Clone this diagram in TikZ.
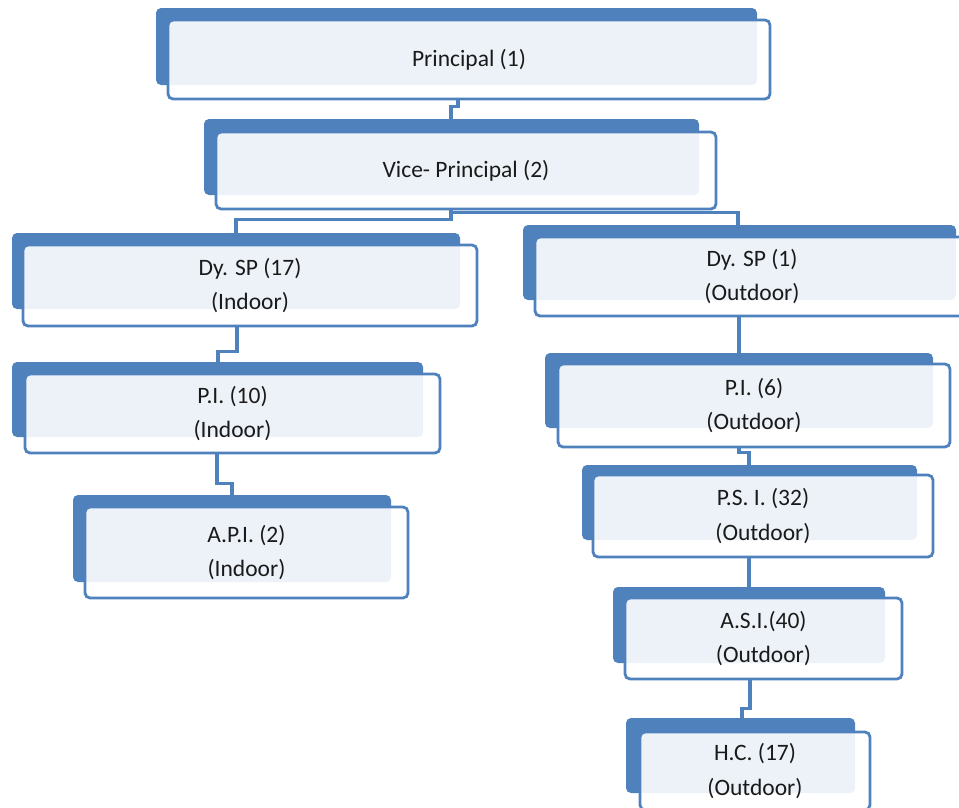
\documentclass[tikz,border=0pt]{standalone}
\usepackage{fontspec}
\setmainfont{Carlito}
\usetikzlibrary{calc}
\definecolor{myblue}{HTML}{4F81BD}
\definecolor{txt}{HTML}{1A1A1A}
\pgfdeclarelayer{bg}
\pgfdeclarelayer{mid}
\pgfsetlayers{bg,mid,main}
\tikzset{
  orgbox/.style={draw=myblue, line width=2.8pt, rounded corners=5pt, fill=white,
    fill opacity=0.9, text opacity=1, text=txt, inner sep=0pt, align=center,
    font=\fontsize{23.5}{34.5}\selectfont},
  backbox/.style={fill=myblue, rounded corners=5pt},
  conn/.style={draw=myblue, line width=3.2pt}
}
\begin{document}
\begin{tikzpicture}[x=1pt,y=-1pt]
\useasboundingbox (0,0) rectangle (959,807);
\clip (0,0) rectangle (959,807);
% outline boxes with text
\node[orgbox, minimum width=602pt, minimum height=79pt] (pr) at (469,59.5) {Principal (1)};
\node[orgbox, minimum width=500pt, minimum height=77pt] (vp) at (466,170.5) {Vice- Principal (2)};
\node[orgbox, minimum width=454pt, minimum height=81pt] (ds1) at (250,285.5) {Dy. SP (17)\\(Indoor)};
\node[orgbox, minimum width=434pt, minimum height=79pt] (ds2) at (752,276.5) {Dy. SP (1)\\(Outdoor)};
\node[orgbox, minimum width=415pt, minimum height=79pt] (pi1) at (232.5,413.5) {P.I. (10)\\(Indoor)};
\node[orgbox, minimum width=392pt, minimum height=83pt] (pi2) at (754,405.5) {P.I. (6)\\(Outdoor)};
\node[orgbox, minimum width=323pt, minimum height=91pt] (api) at (246.5,552.5) {A.P.I. (2)\\(Indoor)};
\node[orgbox, minimum width=340pt, minimum height=82pt] (psi) at (763,516) {P.S. I. (32)\\(Outdoor)};
\node[orgbox, minimum width=277pt, minimum height=81pt] (asi) at (763.5,638.5) {A.S.I.(40)\\(Outdoor)};
\node[orgbox, minimum width=230pt, minimum height=78pt] (hc) at (755,771) {H.C. (17)\\(Outdoor)};
% dark back boxes
\begin{pgfonlayer}{mid}
\fill[backbox] (156,8) rectangle (757,85);
\fill[backbox] (204,119) rectangle (699,195);
\fill[backbox] (12,233) rectangle (460,309);
\fill[backbox] (523,225) rectangle (956,300);
\fill[backbox] (12,362) rectangle (423,437);
\fill[backbox] (545,353) rectangle (933,428);
\fill[backbox] (73,495) rectangle (391,582);
\fill[backbox] (582,465) rectangle (917,540);
\fill[backbox] (613,587) rectangle (885,663);
\fill[backbox] (626,718) rectangle (855,793);
\end{pgfonlayer}
% connectors
\begin{pgfonlayer}{bg}
\draw[conn] ([xshift=-11pt]pr.south) -- ++(0,6) -| ([xshift=-15pt]vp.north);
\draw[conn] ([xshift=-15pt]vp.south) -- ++(0,9) -| ([xshift=-14pt]ds1.north);
\draw[conn] ([xshift=-15pt]vp.south) -- ++(0,2) -| ([xshift=-14pt]ds2.north);
\draw[conn] ([xshift=-13pt]ds1.south) -- ++(0,24) -| ([xshift=-14.5pt]pi1.north);
\draw[conn] ([xshift=-15.5pt]pi1.south) -- ++(0,29) -| ([xshift=-14.5pt]api.north);
\draw[conn] ([xshift=-13pt]ds2.south) -- ++(0,20) -| ([xshift=-15pt]pi2.north);
\draw[conn] ([xshift=-15pt]pi2.south) -- ++(0,4) -| ([xshift=-14pt]psi.north);
\draw[conn] ([xshift=-14pt]psi.south) -- ++(0,20) -| ([xshift=-14.5pt]asi.north);
\draw[conn] ([xshift=-13.5pt]asi.south) -- ++(0,28) -| ([xshift=-13pt]hc.north);
\end{pgfonlayer}
\end{tikzpicture}
\end{document}
